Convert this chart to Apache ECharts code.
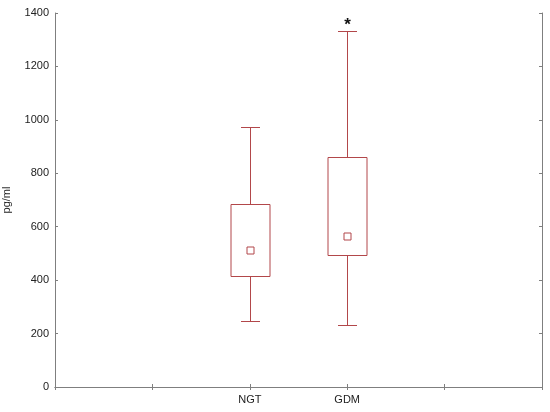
<!DOCTYPE html>
<html>
<head>
<meta charset="utf-8">
<script src="https://cdn.jsdelivr.net/npm/echarts@6/dist/echarts.min.js"></script>
<style>
  html, body { margin: 0; padding: 0; background: #fff; }
  #main { width: 550px; height: 412px; }
</style>
</head>
<body>
<div id="main"></div>
<script>
  // groups and box values
  const categories = ['NGT', 'GDM'];
  const slots = ['', '', 'NGT', 'GDM', '', ''];
  const whiskerLow = [246, 232];
  const boxLow = [417, 494];
  const medians = [513, 567];
  const boxHigh = [686, 861];
  const whiskerHigh = [974, 1333];
  const marks = ['', '*'];

  const boxColor = '#b2474a';
  const axisColor = '#7f7f7f';

  let chart = echarts.init(document.getElementById('main'));

  let data = categories.map(function (c, i) {
    return [c, whiskerLow[i], boxLow[i], medians[i], boxHigh[i], whiskerHigh[i]];
  });

  function renderBox(params, api) {
    let x = api.value(0);
    let lo = api.coord([x, api.value(1)]);
    let q1 = api.coord([x, api.value(2)]);
    let med = api.coord([x, api.value(3)]);
    let q3 = api.coord([x, api.value(4)]);
    let hi = api.coord([x, api.value(5)]);
    let cx = Math.round(lo[0]) + 0.5;
    let boxW = 39, capW = 19, sq = 7;
    let yHi = Math.round(hi[1]) + 0.5, yLo = Math.round(lo[1]) + 0.5;
    let yQ3 = Math.round(q3[1]) + 0.5, yQ1 = Math.round(q1[1]) + 0.5;
    let left = cx - boxW / 2, right = cx + boxW / 2;
    // box, whiskers and caps as one outline path
    let path = 'M' + left + ' ' + yQ3 + 'L' + right + ' ' + yQ3 + 'L' + right + ' ' + yQ1 +
      'L' + left + ' ' + yQ1 + 'Z' +
      'M' + cx + ' ' + yQ3 + 'L' + cx + ' ' + yHi +
      'M' + (cx - capW / 2) + ' ' + yHi + 'L' + (cx + capW / 2) + ' ' + yHi +
      'M' + cx + ' ' + yQ1 + 'L' + cx + ' ' + yLo +
      'M' + (cx - capW / 2) + ' ' + yLo + 'L' + (cx + capW / 2) + ' ' + yLo;
    let my = Math.round(med[1]) + 0.5;
    path += 'M' + (cx - sq / 2) + ' ' + (my - sq / 2) + 'L' + (cx + sq / 2) + ' ' + (my - sq / 2) +
      'L' + (cx + sq / 2) + ' ' + (my + sq / 2) + 'L' + (cx - sq / 2) + ' ' + (my + sq / 2) + 'Z';
    return {
      type: 'path',
      shape: { pathData: path },
      style: { stroke: boxColor, lineWidth: 1, fill: 'none' }
    };
  }

  function renderMark(params, api) {
    let text = marks[params.dataIndex];
    if (!text) return null;
    let p = api.coord([api.value(0), api.value(5)]);
    return {
      type: 'text',
      style: { text: text, x: Math.round(p[0]) + 0.5, y: p[1] - 6, align: 'center', verticalAlign: 'middle', fill: '#111', font: 'bold 17px Arial' }
    };
  }

  let axisCommon = {
    axisLine: { show: true, lineStyle: { color: axisColor, width: 1 } },
    axisTick: { show: true, inside: true, length: 3, lineStyle: { color: axisColor } },
    splitLine: { show: false }
  };

  let option = {
    animation: false,
    grid: { left: 55, right: 8, top: 13, bottom: 25, outerBoundsMode: 'none', containLabel: false },
    xAxis: [
      Object.assign({
        type: 'category', data: slots, boundaryGap: false, position: 'bottom',
        axisLabel: { color: '#222', fontFamily: 'Arial', fontSize: 11, margin: 7, interval: 0 }
      }, axisCommon),
      Object.assign({
        type: 'category', data: slots, boundaryGap: false, position: 'top',
        axisLabel: { show: false }
      }, axisCommon)
    ],
    yAxis: [
      Object.assign({
        type: 'value', min: 0, max: 1400, interval: 200, position: 'left',
        name: 'pg/ml', nameLocation: 'middle', nameGap: 43,
        nameTextStyle: { color: '#222', fontFamily: 'Arial', fontSize: 11 },
        axisLabel: { color: '#222', fontFamily: 'Arial', fontSize: 11, margin: 6,
          formatter: function (v) { return String(v); } }
      }, axisCommon),
      Object.assign({
        type: 'value', min: 0, max: 1400, interval: 200, position: 'right',
        axisLabel: { show: false }
      }, axisCommon)
    ],
    series: [{
      type: 'custom',
      silent: true,
      renderItem: renderBox,
      encode: { x: 0, y: [1, 2, 3, 4, 5] },
      data: data
    }, {
      type: 'custom',
      silent: true,
      renderItem: renderMark,
      encode: { x: 0, y: 5 },
      data: data
    }]
  };
  chart.setOption(option);
</script>
</body>
</html>
